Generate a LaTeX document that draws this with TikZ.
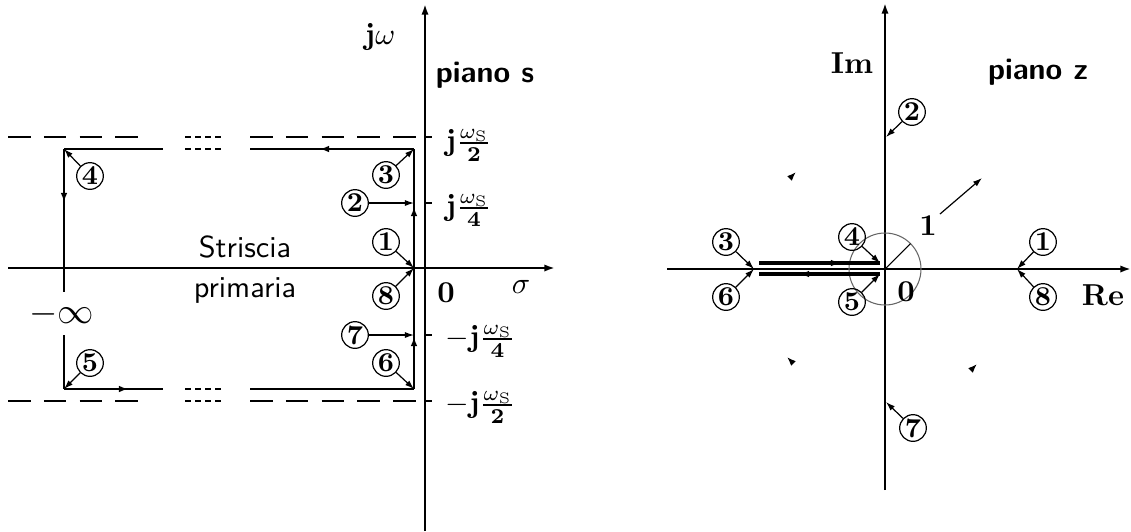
\documentclass[tikz,border=0pt]{standalone}
\usepackage{amsmath,amssymb}
\usepackage{tikz}
\usetikzlibrary{arrows.meta, calc}

\begin{document}
\begin{tikzpicture}[
        x=0.33pt, y=-0.33pt,
        axis/.style={line width=0.75pt, -{Latex[length=3.5pt, width=2.4pt]}},
        path/.style={line width=0.75pt},
        guide/.style={line width=0.6pt, dash pattern=on 7.5pt off 4.3pt},
        dots/.style={line width=0.6pt, dash pattern=on 2pt off 1.3pt},
        numc/.style={circle, draw, thin, inner sep=0pt, minimum size=8.8pt, font=\small\bfseries},
        ptr/.style={line width=0.4pt, -{Latex[length=3pt, width=2pt]}},
        tip/.style={-{Latex[length=3pt, width=2.2pt]}, line width=0.5pt},
        lbl/.style={inner sep=1pt}
    ]
    \useasboundingbox (0,0) rectangle (1131,531);

    % --- piano s: axes ---
    \coordinate (sW) at (8,268);
    \coordinate (sE) at (555,268);
    \coordinate (sS) at (425,531);
    \coordinate (sN) at (425,4);
    \draw[axis] (sW) -- (sE);
    \draw[axis] (sS) -- (sN);
    \foreach \yy in {137, 203, 335, 401}
        \draw[line width=0.6pt] (425,\yy) -- (432,\yy);

    % --- piano s: limits of the strip ---
    \foreach \yy in {137, 401} {
        \draw[guide] (8,\yy) -- (151,\yy);
        \draw[guide] (250,\yy) -- (419,\yy);
        \draw[dots] (185,\yy) -- (223,\yy);
    }

    % --- piano s: contour ---
    \coordinate (tl) at (64,149);
    \coordinate (tr) at (414,149);
    \coordinate (bl) at (64,389);
    \coordinate (br) at (414,389);
    \foreach \yy in {149, 389} {
        \draw[path] (64,\yy) -- (163,\yy);
        \draw[path] (250,\yy) -- (414,\yy);
        \draw[dots] (185,\yy) -- (223,\yy);
    }
    \draw[path] (tl) -- (64,292);
    \draw[path] (64,335) -- (bl);
    \draw[path] (tr) -- (br);
    \draw[tip] (332,149) -- (320,149);
    \draw[tip] (64,190) -- (64,202);
    \draw[tip] (116,389) -- (128,389);
    \draw[tip] (414,214) -- (414,207);
    \draw[tip] (414,344) -- (414,337);

    % --- piano s: labels ---
    \node[lbl] (jw) at (380,37) {$\mathbf{j}\omega$};
    \node[lbl, font=\sffamily\bfseries] (pianos) at (485,75) {piano s};
    \node[lbl, anchor=west] (lq1) at (442,145) {$\mathbf{j}\frac{\omega_{\mathrm{S}}}{\mathbf{2}}$};
    \node[lbl, anchor=west] (lq2) at (442,210) {$\mathbf{j}\frac{\omega_{\mathrm{S}}}{\mathbf{4}}$};
    \node[lbl, anchor=west] (lq3) at (442,341) {$-\mathbf{j}\frac{\omega_{\mathrm{S}}}{\mathbf{4}}$};
    \node[lbl, anchor=west] (lq4) at (442,407) {$-\mathbf{j}\frac{\omega_{\mathrm{S}}}{\mathbf{2}}$};
    \node[lbl] (szero) at (446,293) {$\mathbf{0}$};
    \node[lbl] (sigma) at (521,287) {$\sigma$};
    \node[lbl, font=\sffamily] (str1) at (245,247) {Striscia};
    \node[lbl, font=\sffamily] (str2) at (245,290) {primaria};
    \node[lbl, font=\large] (minf) at (62,314) {$-\infty$};

    % --- piano s: numbered points ---
    \node[numc] (s3) at (386,175) {3};
    \node[numc] (s2) at (355,203) {2};
    \node[numc] (s1) at (386,242) {1};
    \node[numc] (s8) at (386,296) {8};
    \node[numc] (s7) at (355,335) {7};
    \node[numc] (s6) at (386,363) {6};
    \node[numc] (s4) at (90,176) {4};
    \node[numc] (s5) at (90,363) {5};
    \coordinate (o2) at (414,203);
    \coordinate (o7) at (414,335);
    \coordinate (o18) at (414,268);
    \draw[ptr] (s3) -- (tr);
    \draw[ptr] (s2) -- (o2);
    \draw[ptr] (s1) -- (o18);
    \draw[ptr] (s8) -- (o18);
    \draw[ptr] (s7) -- (o7);
    \draw[ptr] (s6) -- (br);
    \draw[ptr] (s4) -- (tl);
    \draw[ptr] (s5) -- (bl);

    % --- piano z: axes ---
    \coordinate (zW) at (667,269);
    \coordinate (zE) at (1131,269);
    \coordinate (zS) at (885,490);
    \coordinate (zN) at (885,3);
    \coordinate (z0) at (885,269);
    \draw[axis] (zW) -- (zE);
    \draw[axis] (zS) -- (zN);

    % --- piano z: unit circle ---
    \draw[gray!80!black, line width=0.35pt] (z0) circle[radius=36];
    \coordinate (rr) at (910.5,243.5);
    \draw[line width=0.35pt] (z0) -- (rr);
    \node[lbl] (one) at (928,226) {$\mathbf{1}$};
    \coordinate (ra) at (940,214);
    \coordinate (rb) at (982,178);
    \draw[ptr] (ra) -- (rb);

    % --- piano z: image of the contour ---
    \coordinate (up1) at (759,263);
    \coordinate (up2) at (880,263);
    \coordinate (dn1) at (759,274);
    \coordinate (dn2) at (880,274);
    \draw[line width=1.1pt] (up1) -- (up2);
    \draw[line width=1.1pt] (dn1) -- (dn2);
    \draw[tip] (830,263) -- (840,263);
    \draw[tip] (810,274) -- (800,274);
    \draw[tip] (792,176) -- (796,172);
    \draw[tip] (791,361) -- (787,357);
    \draw[tip] (973,368) -- (977,364);

    % --- piano z: labels ---
    \node[lbl, font=\bfseries] (im) at (852,63) {Im};
    \node[lbl, font=\bfseries] (re) at (1103,295) {Re};
    \node[lbl, font=\sffamily\bfseries] (pianoz) at (1038,72) {piano z};
    \node[lbl] (zzero) at (906,292) {$\mathbf{0}$};

    % --- piano z: numbered points ---
    \node[numc] (z3) at (726,242) {3};
    \node[numc] (z6) at (726,297) {6};
    \node[numc] (z4) at (852,237) {4};
    \node[numc] (z5) at (852,302) {5};
    \node[numc] (z2) at (912,112) {2};
    \node[numc] (z7) at (913,428) {7};
    \node[numc] (z1) at (1043,242) {1};
    \node[numc] (z8) at (1043,297) {8};
    \coordinate (p36) at (754,269);
    \coordinate (p2) at (886,137);
    \coordinate (p7) at (886,402);
    \coordinate (p18) at (1017,269);
    \draw[ptr] (z3) -- (p36);
    \draw[ptr] (z6) -- (p36);
    \draw[ptr] (z4) -- (up2);
    \draw[ptr] (z5) -- (dn2);
    \draw[ptr] (z2) -- (p2);
    \draw[ptr] (z7) -- (p7);
    \draw[ptr] (z1) -- (p18);
    \draw[ptr] (z8) -- (p18);

\end{tikzpicture}
\end{document}
